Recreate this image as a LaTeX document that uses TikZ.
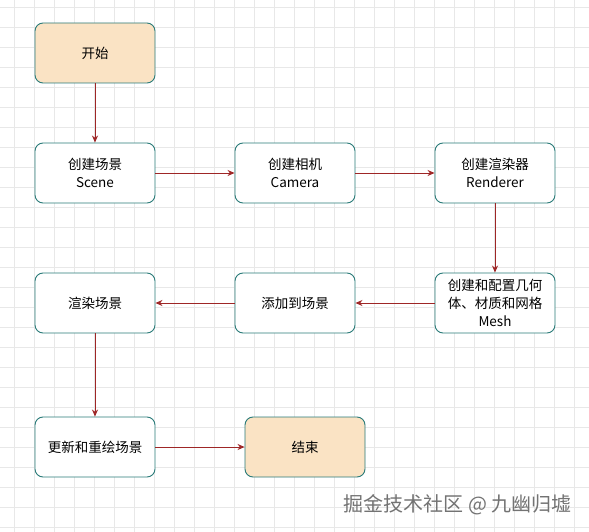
\documentclass[tikz,border=0pt]{standalone}
\usepackage{fontspec}
\setmainfont{Noto Sans CJK SC}
\usetikzlibrary{arrows.meta}

\definecolor{boxcolor}{rgb}{0.16,0.48,0.47}
\definecolor{termcolor}{rgb}{0.98,0.89,0.77}
\definecolor{flowcolor}{rgb}{0.62,0.15,0.15}
\definecolor{gridcolor}{rgb}{0.91,0.91,0.91}

\begin{document}
\begin{tikzpicture}[
    x=1pt, y=-1pt,
    font=\fontsize{13.5}{18}\selectfont,
    %% Column centres:  x = 95  295  495   (box width=120, pitch=200)
    %% Row centres:     y = 53  173  303  447
    stepbox/.style={draw=boxcolor, fill=white, line width=0.9pt,
                    rounded corners=8pt, minimum width=120pt,
                    minimum height=60pt, align=center, inner sep=2pt},
    termbox/.style={stepbox, fill=termcolor},
    flow/.style={draw=flowcolor, line width=0.9pt,
                 -{Stealth[length=7pt,width=6pt]}},
]

%% ── Canvas and grid ──────────────────────────────────────────────────────
\useasboundingbox[fill=white] (0,0) rectangle (589,532);
\foreach \gx in {14,34,...,589}
    \draw[gridcolor, line width=0.5pt] (\gx,0) -- (\gx,532);
\foreach \gy in {7,27,...,532}
    \draw[gridcolor, line width=0.5pt] (0,\gy) -- (589,\gy);

%% ── Start ────────────────────────────────────────────────────────────────
\node[termbox] (start) at (95,53) {开始};

%% ── First row: setup ─────────────────────────────────────────────────────
\node[stepbox] (scene)    at (95,173)  {创建场景\\Scene};
\node[stepbox] (camera)   at (295,173) {创建相机\\Camera};
\node[stepbox] (renderer) at (495,173) {创建渲染器\\Renderer};

%% ── Second row: content ──────────────────────────────────────────────────
\node[stepbox] (mesh)   at (495,303) {创建和配置几何\\体、材质和网格\\Mesh};
\node[stepbox] (add)    at (295,303) {添加到场景};
\node[stepbox] (render) at (95,303)  {渲染场景};

%% ── Loop and end ─────────────────────────────────────────────────────────
\node[stepbox] (update) at (95,447)  {更新和重绘场景};
\node[termbox] (finish) at (305,447) {结束};

%% ── Connectors ───────────────────────────────────────────────────────────
\draw[flow] (start)    -- (scene);
\draw[flow] (scene)    -- (camera);
\draw[flow] (camera)   -- (renderer);
\draw[flow] (renderer) -- (mesh);
\draw[flow] (mesh)     -- (add);
\draw[flow] (add)      -- (render);
\draw[flow] (render)   -- (update);
\draw[flow] (update)   -- (finish);

%% ── Watermark ────────────────────────────────────────────────────────────
\node[font=\fontsize{20}{22}\selectfont, text=black!55, anchor=east]
    (mark) at (575,505) {掘金技术社区 @ 九幽归墟};

\end{tikzpicture}
\end{document}
